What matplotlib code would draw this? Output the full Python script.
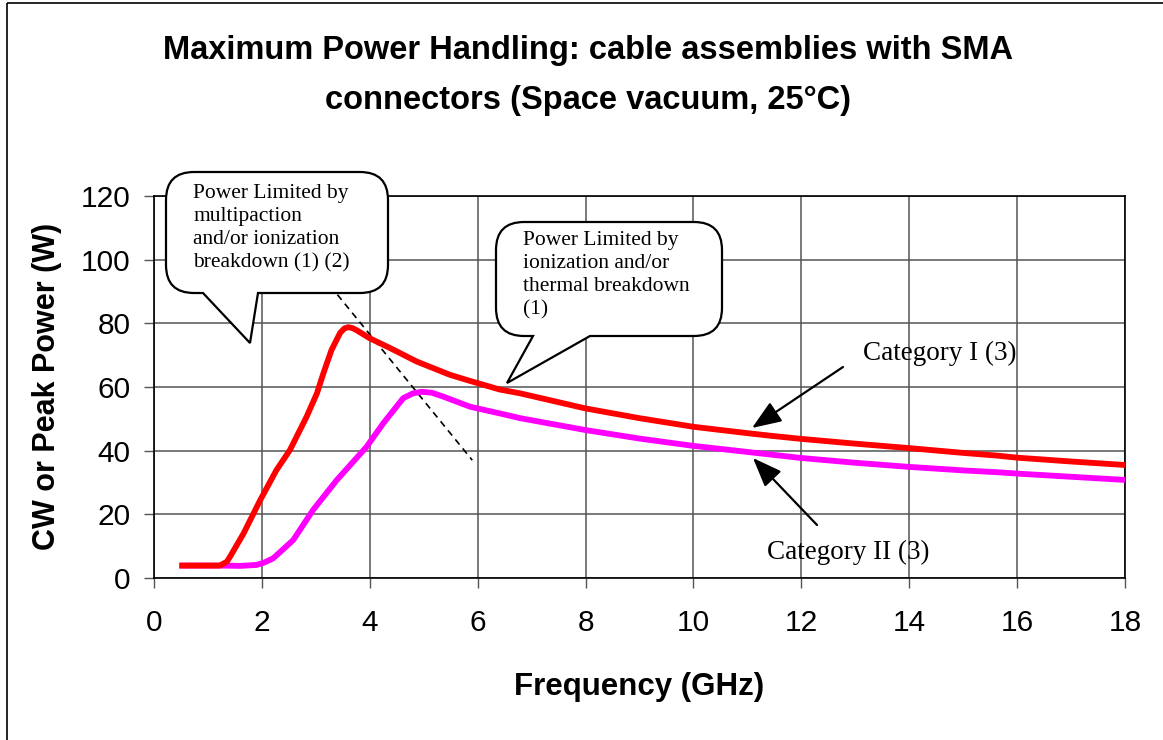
import matplotlib
matplotlib.use("Agg")
import matplotlib.pyplot as plt
from matplotlib.path import Path
from matplotlib.patches import PathPatch, Rectangle

# Category I (red) and Category II (magenta) power curves
freq_cat1 = [0.47, 1.0, 1.22, 1.35, 1.41, 1.66, 1.97, 2.27, 2.52, 2.83, 3.02, 3.14, 3.29,
             3.45, 3.53, 3.60, 3.68, 3.76, 4.0, 4.38, 4.87, 5.49, 5.86, 6.41, 6.79, 7.99,
             9.0, 10.0, 11.0, 11.42, 12.0, 13.0, 14.0, 15.0, 15.66, 16.0, 17.0, 18.0]
power_cat1 = [3.9, 3.9, 3.9, 5.1, 6.7, 14.0, 24.5, 33.9, 40.2, 50.7, 58.0, 64.3, 71.6,
              77.0, 78.4, 78.8, 78.5, 77.8, 75.3, 72.2, 68.0, 63.8, 61.9, 59.2, 58.0, 53.3,
              50.2, 47.5, 45.5, 44.7, 43.7, 42.2, 40.8, 39.3, 38.4, 37.8, 36.6, 35.5]
freq_cat2 = [0.47, 1.22, 1.6, 1.90, 2.05, 2.21, 2.58, 2.95, 3.39, 3.94, 4.25, 4.62,
             4.80, 4.96, 5.15, 5.36, 5.86, 6.41, 6.79, 7.99, 9.0, 10.0, 11.0, 11.42,
             12.0, 13.0, 14.0, 15.0, 15.66, 16.0, 17.0, 18.0]
power_cat2 = [3.9, 3.9, 3.8, 4.1, 4.9, 6.2, 11.9, 21.4, 30.8, 41.2, 48.6, 56.5,
              58.0, 58.5, 58.2, 57.0, 53.8, 51.7, 50.2, 46.5, 43.8, 41.5, 39.6, 38.8,
              37.7, 36.2, 34.9, 33.8, 33.2, 32.8, 31.8, 30.8]
# dashed limit guide
guide_x = [3.4, 5.9]
guide_y = [89, 37]

x_ticks = [0, 2, 4, 6, 8, 10, 12, 14, 16, 18]
y_ticks = [0, 20, 40, 60, 80, 100, 120]

callout1 = "Power Limited by\nmultipaction\nand/or ionization\nbreakdown (1) (2)"
callout2 = "Power Limited by\nionization and/or\nthermal breakdown\n(1)"

W, H = 1163, 740
fig = plt.figure(figsize=(W / 100, H / 100), dpi=100)
fig.set_facecolor("white")

ax = fig.add_axes([154 / W, 1 - 578 / H, (1125 - 154) / W, (578 - 196) / H])
ax.plot(freq_cat2, power_cat2, color="#FF00FF", lw=4.2, solid_joinstyle="round",
        solid_capstyle="butt", zorder=3)
ax.plot(freq_cat1, power_cat1, color="#FF0000", lw=4.2, solid_joinstyle="round",
        solid_capstyle="butt", zorder=4)
ax.plot(guide_x, guide_y, color="black", lw=1.2, ls=(0, (4, 3)), zorder=2)

ax.set_xlim(0, 18)
ax.set_ylim(0, 120)
ax.set_xticks(x_ticks)
ax.set_yticks(y_ticks)
ax.grid(True, color="#555555", lw=1.1)
ax.set_axisbelow(True)
for s in ax.spines.values():
    s.set_color("black")
    s.set_linewidth(1.2)
ax.tick_params(axis="both", direction="out", length=7, width=1, color="#555555",
               labelsize=21.5, labelcolor="black")
ax.tick_params(axis="x", pad=15)
ax.tick_params(axis="y", pad=10)
for lab in ax.get_xticklabels() + ax.get_yticklabels():
    lab.set_family("Liberation Sans")

ax.set_xlabel("Frequency (GHz)", fontsize=22.5, fontweight="bold", family="Liberation Sans")
ax.set_ylabel("CW or Peak Power (W)", fontsize=22, fontweight="bold", family="Liberation Sans")
ax.xaxis.set_label_coords((639 - 154) / 971, (578 - 687) / 382)
ax.xaxis.label.set_va("center")
ax.yaxis.set_label_coords((47 - 154) / 971, (578 - 386) / 382)
ax.yaxis.label.set_va("center")

fig.text(588 / W, 1 - 50 / H, "Maximum Power Handling: cable assemblies with SMA",
         ha="center", va="center", fontsize=23.5, fontweight="bold", family="Liberation Sans")
fig.text(588 / W, 1 - 100 / H, "connectors (Space vacuum, 25°C)",
         ha="center", va="center", fontsize=23.5, fontweight="bold", family="Liberation Sans")

# overlay in pixel coordinates for callouts and arrows
ov = fig.add_axes([0, 0, 1, 1], zorder=5)
ov.set_xlim(0, W)
ov.set_ylim(H, 0)
ov.axis("off")
ov.patch.set_alpha(0)

ov.add_patch(Rectangle((7, 3), W, H, fill=False, ec="black", lw=1.2))


def bubble(x0, x1, y0, y1, r, ta, tip, tb):
    verts = [(x0 + r, y0), (x1 - r, y0), (x1, y0), (x1, y0 + r), (x1, y1 - r),
             (x1, y1), (x1 - r, y1), (tb, y1), tip, (ta, y1), (x0 + r, y1),
             (x0, y1), (x0, y1 - r), (x0, y0 + r), (x0, y0), (x0 + r, y0), (x0 + r, y0)]
    codes = [Path.MOVETO, Path.LINETO, Path.CURVE3, Path.CURVE3, Path.LINETO,
             Path.CURVE3, Path.CURVE3, Path.LINETO, Path.LINETO, Path.LINETO, Path.LINETO,
             Path.CURVE3, Path.CURVE3, Path.LINETO, Path.CURVE3, Path.CURVE3, Path.CLOSEPOLY]
    ov.add_patch(PathPatch(Path(verts, codes), fc="white", ec="black", lw=1.6,
                           joinstyle="miter"))


bubble(166, 388, 172, 293, 28, 203, (250, 343), 258)
bubble(496, 722, 222, 336, 28, 533, (507, 383), 590)

ov.text(193, 184, callout1, ha="left", va="top", fontsize=15.5, family="Liberation Serif",
        linespacing=1.3)
t2 = ov.text(523, 231, callout2, ha="left", va="top", fontsize=15.5,
             family="Liberation Serif", linespacing=1.3)
clip = Rectangle((496, 222), 226, 98, transform=ov.transData, visible=False)
ov.add_patch(clip)
t2.set_clip_path(clip)

ov.text(863, 353, "Category I (3)", ha="left", va="center", fontsize=19.5,
        family="Liberation Serif")
ov.text(767, 552, "Category II (3)", ha="left", va="center", fontsize=19.5,
        family="Liberation Serif")
arrow = dict(arrowstyle="-|>,head_length=0.9,head_width=0.35", color="black", lw=1.6,
             shrinkA=0, shrinkB=0, mutation_scale=20)
ov.annotate("", xy=(752, 428), xytext=(843, 367), arrowprops=arrow)
ov.annotate("", xy=(753, 458), xytext=(817, 525), arrowprops=arrow)

fig.savefig("out.png", dpi=100)
